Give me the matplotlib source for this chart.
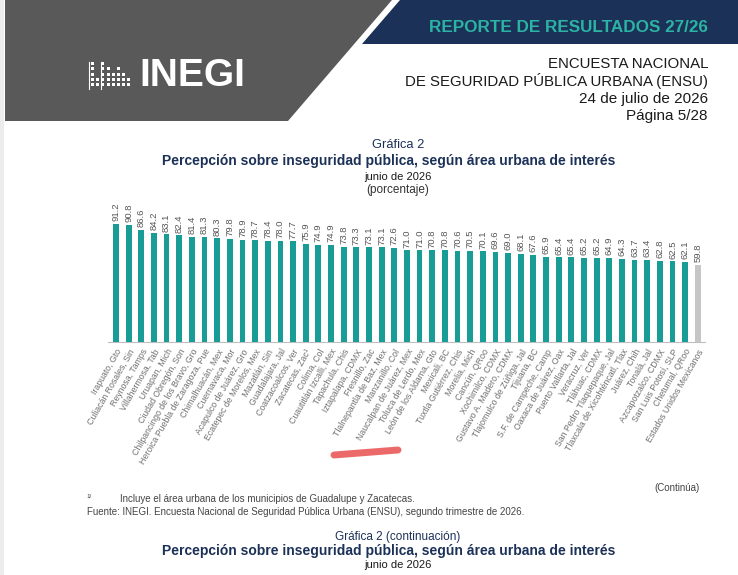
import matplotlib.pyplot as plt
from matplotlib.patches import Polygon, Rectangle

plt.rcParams['font.family'] = ['Liberation Sans', 'DejaVu Sans']

# ---------------------------------------------------------------- data
AREAS = [
    "Irapuato, Gto", "Culiacán Rosales, Sin", "Reynosa, Tamps", "Villahermosa, Tab",
    "Uruapan, Mich", "Ciudad Obregón, Son", "Chilpancingo de los Bravo, Gro",
    "Heroica Puebla de Zaragoza, Pue", "Chimalhuacán, Mex", "Cuernavaca, Mor",
    "Acapulco de Juárez, Gro", "Ecatepec de Morelos, Mex", "Mazatlán, Sin",
    "Guadalajara, Jal", "Coatzacoalcos, Ver", "Zacatecas, Zac¹", "Colima, Col",
    "Cuautitlán Izcalli, Mex", "Tapachula, Chis", "Iztapalapa, CDMX", "Fresnillo, Zac",
    "Tlalnepantla de Baz, Mex", "Manzanillo, Col", "Naucalpan de Juárez, Mex",
    "Toluca de Lerdo, Mex", "León de los Aldama, Gto", "Mexicali, BC",
    "Tuxtla Gutiérrez, Chis", "Morelia, Mich", "Cancún, QRoo", "Xochimilco, CDMX",
    "Gustavo A. Madero, CDMX", "Tlajomulco de Zúñiga, Jal", "Tijuana, BC",
    "S.F. de Campeche, Camp", "Oaxaca de Juárez, Oax", "Puerto Vallarta, Jal",
    "Veracruz, Ver", "Tláhuac, CDMX", "San Pedro Tlaquepaque, Jal",
    "Tlaxcala de Xicohténcatl, Tlax", "Juárez, Chih", "Tonalá, Jal",
    "Azcapotzalco, CDMX", "San Luis Potosí, SLP", "Chetumal, QRoo",
    "Estados Unidos Mexicanos",
]
VALUES = [
    91.2, 90.8, 86.6, 84.2, 83.1, 82.4, 81.4, 81.3, 80.3, 79.8,
    78.9, 78.7, 78.4, 78.0, 77.7, 75.9, 74.9, 74.9, 73.8, 73.3,
    73.1, 73.1, 72.6, 71.0, 71.0, 70.8, 70.8, 70.6, 70.5, 70.1,
    69.6, 69.0, 68.1, 67.6, 65.9, 65.4, 65.4, 65.2, 65.2, 64.9,
    64.3, 63.7, 63.4, 62.8, 62.5, 62.1, 59.8,
]
NATIONAL = "Estados Unidos Mexicanos"

TEAL = "#1a9c96"
GREY_BAR = "#c6c6c6"
NAVY = "#1c3158"
HEAD_GREY = "#595959"

W, H = 738, 575
fig = plt.figure(figsize=(W / 100, H / 100), dpi=100)

# ---------------------------------------------------------------- page layer (pixel coords)
bg = fig.add_axes([0, 0, 1, 1])
bg.set_xlim(0, W); bg.set_ylim(H, 0); bg.axis("off")

bg.add_patch(Rectangle((0, 0), 4, H, color="#ececec", lw=0))
bg.add_patch(Polygon([(5, 0), (392, 0), (288, 121), (5, 121)], closed=True, color=HEAD_GREY, lw=0))
bg.add_patch(Polygon([(400, 0), (W, 0), (W, 44), (362, 44)], closed=True, color=NAVY, lw=0))

# INEGI logo: dot pattern + wordmark
rows_per_col = [5, 2, 5, 4, 3, 4, 3, 2]
for c, n in enumerate(rows_per_col):
    for r in range(n):
        bg.add_patch(Rectangle((91 + c * 5.2, 86 - r * 5.2 - 3), 3, 3, color="white", lw=0))
bg.plot([88.5, 88.5], [62, 89], color="white", lw=0.8)
bg.plot([101, 101], [62, 89], color="white", lw=0.8)
bg.text(139, 76, "INEGI", color="white", fontsize=28, fontweight="bold", ha="left", va="center")

bg.text(708, 27, "REPORTE DE RESULTADOS 27/26", color="#2bb3a3", fontsize=12.3,
        fontweight="bold", ha="right", va="center")
bg.text(708, 64, "ENCUESTA NACIONAL", color="#1a1a1a", fontsize=10.8, ha="right", va="center")
bg.text(708, 81, "DE SEGURIDAD PÚBLICA URBANA (ENSU)", color="#1a1a1a", fontsize=10.8, ha="right", va="center")
bg.text(708, 99, "24 de julio de 2026", color="#1a1a1a", fontsize=11, ha="right", va="center")
bg.text(708, 116, "Página 5/28", color="#1a1a1a", fontsize=11, ha="right", va="center")

# chart titles
bg.text(398, 145, "Gráfica 2", color=NAVY, fontsize=9.3, ha="center", va="center")
bg.text(389, 161, "Percepción sobre inseguridad pública, según área urbana de interés",
        color=NAVY, fontsize=10, fontweight="bold", ha="center", va="center")
bg.text(398, 177, "junio de 2026", color="#1a1a1a", fontsize=8, ha="center", va="center")
bg.text(398, 190, "(porcentaje)", color="#333333", fontsize=8.5, ha="center", va="center")

# red pen mark
bg.plot([334, 398], [455, 450], color="#e8504f", lw=5, solid_capstyle="round", alpha=0.85)

# footnotes
bg.text(700, 488, "(Continúa)", color="#444444", fontsize=7, ha="right", va="center")
bg.text(86, 496, "1/", color="#444444", fontsize=4.5, ha="left", va="center")
bg.text(120, 499, "Incluye el área urbana de los municipios de Guadalupe y Zacatecas.",
        color="#444444", fontsize=7, ha="left", va="center")
bg.text(87, 512, "Fuente: INEGI. Encuesta Nacional de Seguridad Pública Urbana (ENSU), segundo trimestre de 2026.",
        color="#444444", fontsize=7, ha="left", va="center")

bg.text(398, 537, "Gráfica 2 (continuación)", color=NAVY, fontsize=8.5, ha="center", va="center")
bg.text(389, 551, "Percepción sobre inseguridad pública, según área urbana de interés",
        color=NAVY, fontsize=10, fontweight="bold", ha="center", va="center")
bg.text(398, 565, "junio de 2026", color="#1a1a1a", fontsize=8, ha="center", va="center")

# ---------------------------------------------------------------- bar chart
ax = fig.add_axes([108.4 / W, (H - 342) / H, 597 / W, 129.4 / H])
ax.patch.set_alpha(0)
xs = list(range(len(VALUES)))
colors = [GREY_BAR if a == NATIONAL else TEAL for a in AREAS]
ax.bar(xs, VALUES, width=0.46, color=colors, zorder=3)
for x, v in zip(xs, VALUES):
    ax.text(x, v + 2, f"{v:.1f}", rotation=90, ha="center", va="bottom",
            fontsize=6.8, color="#555555", clip_on=False)

ax.set_xlim(-0.6, len(VALUES) - 0.4)
ax.set_ylim(0, 100)
ax.set_xticks(xs)
ax.set_xticklabels(AREAS, rotation=60, ha="right", va="top", rotation_mode="anchor",
                   fontsize=6.3, color="#707070")
ax.tick_params(axis="x", length=0, pad=4)
ax.set_yticks([])
for s in ("top", "right", "left"):
    ax.spines[s].set_visible(False)
ax.spines["bottom"].set_color("#bfbfbf")
ax.spines["bottom"].set_linewidth(0.8)

fig.savefig("out.png", dpi=100)
